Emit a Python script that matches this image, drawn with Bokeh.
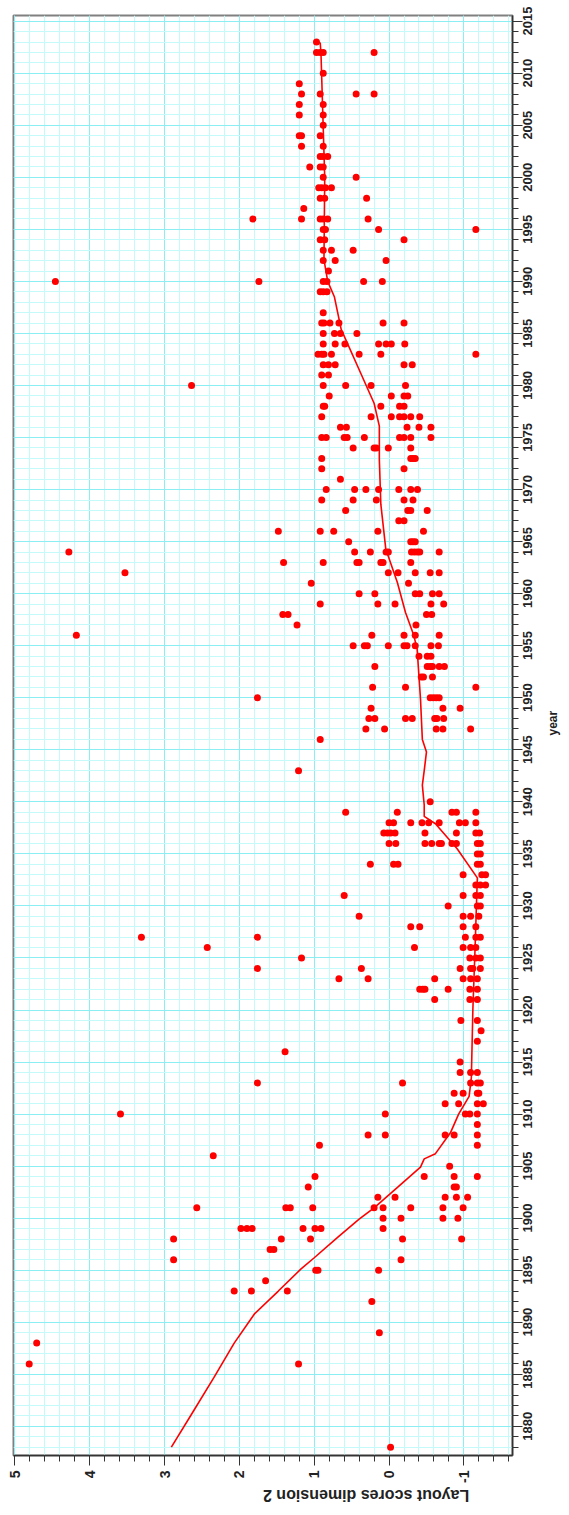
import math
from bokeh.plotting import figure
from bokeh.models import (Range1d, SingleIntervalTicker, FixedTicker, ColumnDataSource,
                          LinearAxis, CustomJSTickFormatter)
from bokeh.embed import file_html
from bokeh.resources import INLINE

# ---- data: (year, layout score dimension 2) ----
pts = {
    2013: [0.97],
    2012: [0.97, 0.92, 0.88, 0.20],
    2010: [0.88],
    2009: [1.20],
    2008: [1.17, 0.92, 0.44, 0.20],
    2007: [1.20, 0.88],
    2006: [1.20, 0.88],
    2005: [0.88],
    2004: [1.20, 1.17, 0.92],
    2003: [1.17, 0.88],
    2002: [0.92, 0.88, 0.82],
    2001: [1.06, 0.92, 0.88],
    2000: [0.88, 0.44],
    1999: [0.94, 0.90, 0.85, 0.77],
    1998: [0.92, 0.86, 0.30],
    1997: [1.14],
    1996: [1.82, 1.17, 0.92, 0.88, 0.82, 0.28],
    1995: [0.88, 0.85, 0.14, -1.16],
    1994: [0.92, 0.86, -0.20],
    1993: [0.88, 0.77, 0.48],
    1992: [0.88, 0.72, 0.04],
    1991: [0.81],
    1990: [4.46, 1.74, 0.88, 0.83, 0.34, 0.09],
    1989: [0.92, 0.88, 0.83],
    1987: [0.88],
    1986: [0.90, 0.87, 0.79, 0.67, 0.08, -0.20],
    1985: [0.88, 0.73, 0.65, 0.43],
    1984: [0.88, 0.72, 0.59, 0.14, 0.04, -0.03, -0.21],
    1983: [0.95, 0.90, 0.87, 0.77, 0.40, 0.11, -1.16],
    1982: [0.88, 0.81, 0.72, -0.20, -0.31],
    1981: [0.90, 0.81],
    1980: [2.64, 0.88, 0.58, 0.24, -0.22],
    1979: [0.80, -0.03, -0.20, -0.25],
    1978: [0.88, 0.86, 0.11, -0.14, -0.20],
    1977: [0.90, 0.24, -0.03, -0.14, -0.20, -0.29, -0.41],
    1976: [0.65, 0.57, -0.24, -0.40, -0.56],
    1975: [0.90, 0.84, 0.60, 0.56, 0.33, -0.14, -0.20, -0.29, -0.56],
    1974: [0.48, 0.20, 0.17, 0.01, -0.29],
    1973: [0.90, -0.29, -0.32, -0.35],
    1972: [0.90, -0.20],
    1971: [0.65],
    1970: [0.84, 0.46, 0.31, 0.14, -0.13, -0.29, -0.38],
    1969: [0.90, 0.48, 0.17, -0.20, -0.32],
    1968: [0.58, -0.25, -0.29, -0.51],
    1967: [-0.13, -0.20],
    1966: [1.48, 0.92, 0.74, 0.15, -0.46],
    1965: [0.54, -0.29, -0.32, -0.35],
    1964: [4.28, 0.46, 0.25, 0.04, 0.01, -0.30, -0.34, -0.38, -0.41, -0.67],
    1963: [1.41, 0.88, 0.43, 0.40, 0.11, 0.08, -0.29],
    1962: [3.53, 0.01, -0.12, -0.35, -0.55, -0.67],
    1961: [1.04, -0.26],
    1960: [0.40, 0.19, -0.35, -0.41, -0.58, -0.67],
    1959: [0.92, 0.15, -0.08, -0.56, -0.73],
    1958: [1.42, 1.35, -0.50, -0.57],
    1957: [1.23, -0.36],
    1956: [4.18, 0.23, -0.20, -0.35, -0.67],
    1955: [0.48, 0.33, 0.29, 0.01, -0.20, -0.24, -0.35, -0.56, -0.66],
    1954: [-0.40, -0.51, -0.56],
    1953: [0.19, -0.51, -0.55, -0.58, -0.67, -0.74],
    1952: [-0.43, -0.46, -0.58],
    1951: [0.22, -0.22, -1.16],
    1950: [1.76, -0.55, -0.59, -0.63, -0.67],
    1949: [0.24, -0.72, -0.95],
    1948: [0.27, 0.19, -0.22, -0.31, -0.61, -0.64, -0.73],
    1947: [0.31, 0.06, -0.63, -0.72, -1.09],
    1946: [0.92],
    1943: [1.21],
    1940: [-0.55],
    1939: [0.58, -0.11, -0.84, -0.90, -1.16],
    1938: [0.00, -0.06, -0.29, -0.44, -0.53, -0.67, -0.94, -1.02, -1.16],
    1937: [0.07, 0.02, -0.02, -0.08, -0.48, -0.90, -1.16, -1.21],
    1936: [0.00, -0.09, -0.48, -0.57, -0.67, -0.70, -0.84, -0.90, -1.18, -1.22],
    1935: [-1.18, -1.22],
    1934: [0.25, -0.06, -0.12, -1.18, -1.22],
    1933: [-0.99, -1.24, -1.29],
    1932: [-1.16, -1.22, -1.29],
    1931: [0.60, -0.99, -1.16, -1.22],
    1930: [-0.79, -1.18, -1.22],
    1929: [0.40, -0.99, -1.09, -1.20],
    1928: [-0.29, -0.41, -0.99, -1.16],
    1927: [3.31, 1.76, -1.02, -1.16, -1.22],
    1926: [2.43, -0.34, -0.99, -1.09, -1.16],
    1925: [1.17, -1.08, -1.16, -1.22],
    1924: [1.76, 0.37, -0.95, -1.09, -1.12, -1.22],
    1923: [0.67, 0.28, -0.61, -0.99, -1.09, -1.18],
    1922: [-0.41, -0.45, -0.48, -0.79, -1.08, -1.18],
    1921: [-0.61, -1.08, -1.18],
    1919: [-0.96, -1.18],
    1918: [-1.23],
    1917: [-1.18],
    1916: [1.39],
    1915: [-0.95],
    1914: [-0.95, -1.09, -1.18],
    1913: [1.76, -0.18, -1.09, -1.18, -1.22],
    1912: [-0.87, -0.99, -1.18, -1.20],
    1911: [-0.75, -0.93, -1.18, -1.26],
    1910: [3.59, 0.05, -1.02, -1.08, -1.18],
    1909: [-1.18],
    1908: [0.28, 0.05, -0.75, -0.87, -1.18],
    1907: [0.93, -1.18],
    1906: [2.35],
    1905: [-0.81],
    1904: [0.99, -0.47, -0.87, -1.18],
    1903: [1.08, -0.87, -0.90],
    1902: [0.15, -0.08, -0.75, -0.90, -1.05],
    1901: [2.57, 1.38, 1.32, 1.02, 0.20, 0.08, -0.29, -0.72, -0.99],
    1900: [0.08, -0.16, -0.72, -0.92],
    1899: [1.98, 1.90, 1.83, 1.15, 0.99, 0.91, 0.08],
    1898: [2.88, 1.44, 1.05, -0.18, -0.97],
    1897: [1.59, 1.54],
    1896: [2.88, -0.16],
    1895: [0.98, 0.95, 0.14],
    1894: [1.65],
    1893: [2.07, 1.84, 1.36],
    1892: [0.23],
    1889: [0.13],
    1888: [4.71],
    1886: [4.81, 1.21],
    1878: [-0.02],
}
years = [y for y, v in pts.items() for _ in v]
scores = [s for y, v in pts.items() for s in v]

loess_year = [1878.0, 1881.4, 1884.7, 1888.0, 1890.8, 1893.0, 1895.1, 1896.2, 1898.2,
              1899.9, 1901.0, 1903.0, 1904.9, 1905.7, 1906.2, 1908.2, 1910.0, 1911.7,
              1913.5, 1920.0, 1926.0, 1932.7, 1935.5, 1937.9, 1938.6, 1939.7, 1941.6,
              1943.0, 1944.8, 1946.0, 1949.9, 1954.7, 1956.0, 1958.2, 1961.1, 1964.3,
              1968.6, 1972.9, 1976.1, 1978.3, 1981.2, 1985.4, 1988.5, 1990.0, 1992.1,
              2000.0, 2011.9, 2012.9, 2013.0]
loess_score = [2.91, 2.62, 2.34, 2.07, 1.80, 1.48, 1.18, 1.00, 0.68,
               0.40, 0.20, -0.12, -0.42, -0.47, -0.62, -0.82, -0.93, -1.07,
               -1.10, -1.12, -1.15, -1.18, -0.91, -0.62, -0.47, -0.47, -0.445,
               -0.47, -0.50, -0.445, -0.42, -0.375, -0.33, -0.22, -0.11, 0.044,
               0.11, 0.13, 0.13, 0.20, 0.38, 0.64, 0.73, 0.82, 0.87,
               0.86, 0.91, 0.92, 0.97]

year_ticks = list(range(1880, 2016, 5))
x_title = "Layout scores dimension 2"
y_title = "year"

FONT = "Liberation Sans"
MINOR = "#c4fafa"
MAJOR = "#8aeef2"
TXT = "#222222"
AX = "#333333"

p = figure(width=569, height=1515,
           x_range=Range1d(5.02, -1.65), y_range=Range1d(1877.2, 2015.55),
           x_axis_location="below", y_axis_location="right",
           toolbar_location=None, output_backend="svg",
           min_border_left=13, min_border_top=15, min_border_right=56, min_border_bottom=57,
           background_fill_color="white", border_fill_color="white")
p.outline_line_color = "#808080"
p.outline_line_width = 2

p.xaxis.ticker = SingleIntervalTicker(interval=1, num_minor_ticks=5)
p.yaxis.ticker = SingleIntervalTicker(interval=5, num_minor_ticks=5)

for g in (p.xgrid, p.ygrid):
    g.grid_line_color = MAJOR
    g.grid_line_width = 1
    g.minor_grid_line_color = MINOR
    g.minor_grid_line_width = 1
    g.level = "underlay"

for ax in (p.xaxis, p.yaxis):
    ax.axis_line_color = AX
    ax.axis_line_width = 1.5
    ax.major_tick_line_color = AX
    ax.minor_tick_line_color = AX
    ax.major_tick_out = 10
    ax.major_tick_in = 0
    ax.minor_tick_out = 6
    ax.minor_tick_in = 0
    ax.major_label_text_font = FONT
    ax.major_label_text_font_style = "bold"
    ax.major_label_text_color = TXT
    ax.axis_label_text_font = FONT
    ax.axis_label_text_font_style = "bold"
    ax.axis_label_text_color = TXT

# bottom axis (scores)
p.xaxis.major_label_standoff = 5
p.xaxis.major_label_orientation = math.pi / 2
p.xaxis.major_label_text_font_size = "14px"
p.xaxis.major_label_overrides = {-1: "-1"}
p.xaxis.axis_label = x_title
p.xaxis.axis_label_orientation = math.pi
p.xaxis.axis_label_text_font_size = "16px"
p.xaxis.axis_label_standoff = 10

# right axis (years): inner axis carries line and ticks only
p.yaxis.major_label_standoff = 0
p.yaxis.major_label_text_font_size = "0px"
p.yaxis.formatter = CustomJSTickFormatter(code="return '';")

# outer axis carries the rotated year labels, centred on the ticks
SHIFT = 1.375
lab_axis = LinearAxis(
    ticker=FixedTicker(ticks=[y - SHIFT for y in year_ticks], minor_ticks=[]),
    formatter=CustomJSTickFormatter(code="return String(Math.round(tick + %s));" % SHIFT),
    axis_line_color=None, major_tick_line_color=None, minor_tick_line_color=None,
    major_tick_out=0, major_tick_in=0, minor_tick_out=0, minor_tick_in=0,
    major_label_standoff=5, major_label_orientation=math.pi / 2,
    major_label_text_font=FONT, major_label_text_font_style="bold",
    major_label_text_font_size="13px", major_label_text_color=TXT,
    axis_label=y_title, axis_label_orientation=math.pi / 2,
    axis_label_standoff=13, axis_label_text_font=FONT,
    axis_label_text_font_style="bold", axis_label_text_font_size="12px",
    axis_label_text_color=TXT)
p.add_layout(lab_axis, "right")

src = ColumnDataSource(dict(x=scores, y=years))
p.line(loess_score, loess_year, line_color="#ff0000", line_width=1.6)
p.scatter("x", "y", source=src, size=7, fill_color="#ff0000", line_color="#ff0000",
          line_width=0)

open("out.html", "w").write(file_html(p, INLINE))
